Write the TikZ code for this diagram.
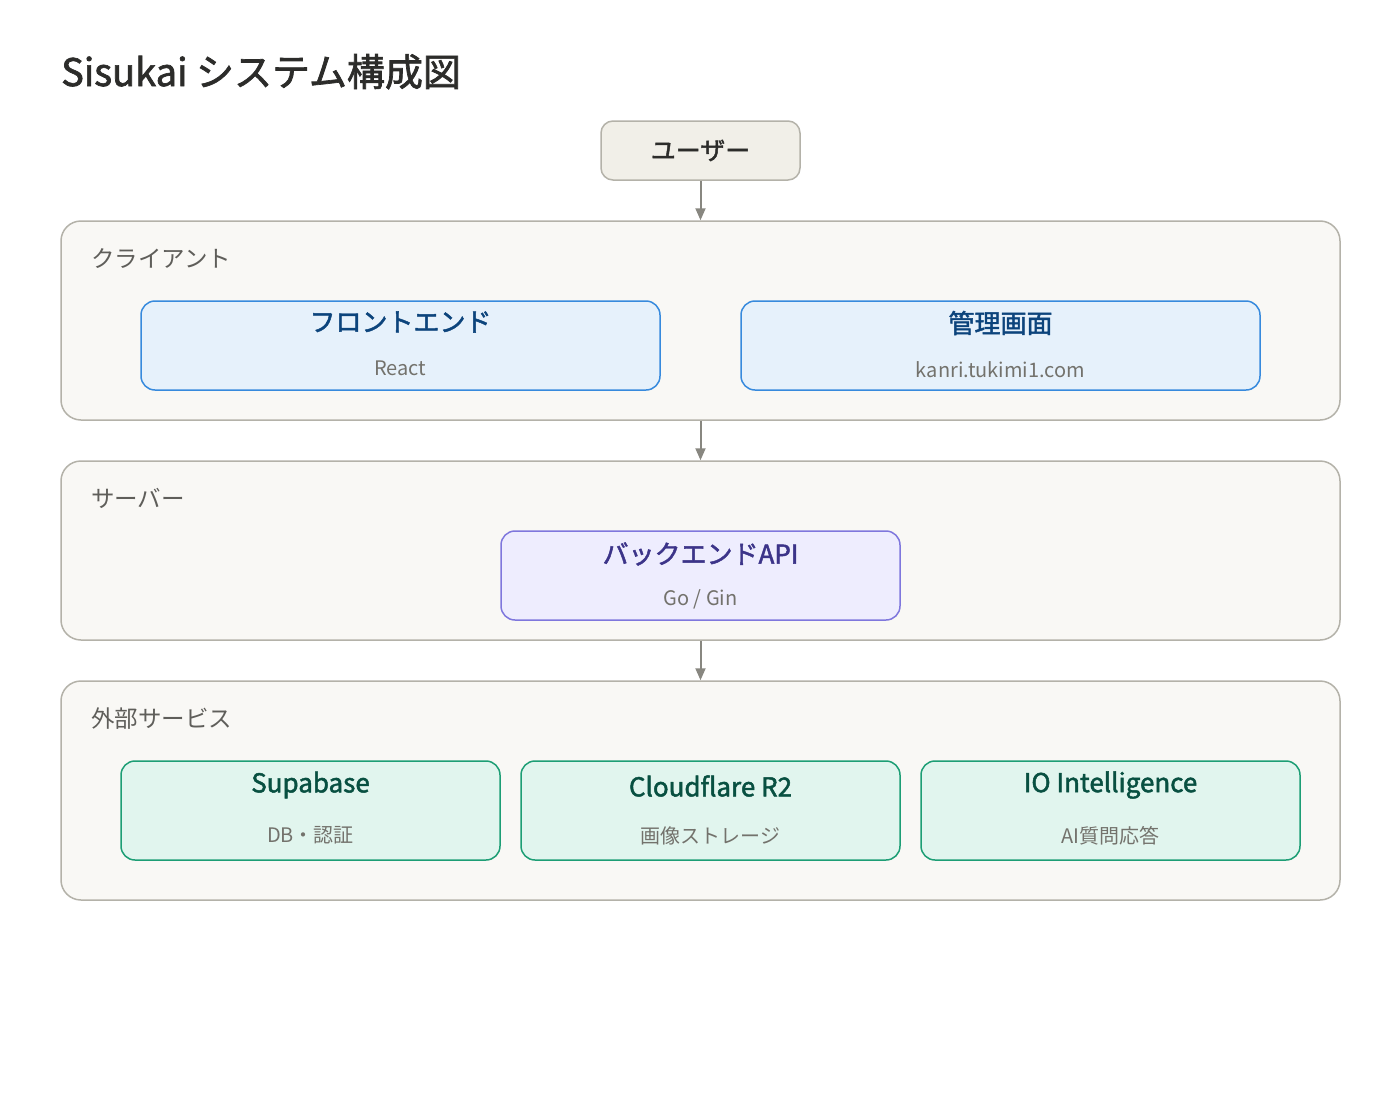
\documentclass[tikz,border=0pt]{standalone}
\usepackage{fontspec}
\setmainfont{Noto Sans CJK JP}
\newfontfamily\medfont{Noto Sans CJK JP}[FakeBold=1.8]
\usetikzlibrary{arrows.meta}

\definecolor{inkdark}{HTML}{2C2C2A}
\definecolor{usefill}{HTML}{F1EFE8}
\definecolor{usedraw}{HTML}{B4B2A9}
\definecolor{layerfill}{HTML}{F9F8F5}
\definecolor{layerdraw}{HTML}{B4B2A9}
\definecolor{labelgray}{HTML}{5F5E5A}
\definecolor{subgray}{HTML}{73726C}
\definecolor{bluefill}{HTML}{E6F1FB}
\definecolor{bluedraw}{HTML}{378ADD}
\definecolor{bluetext}{HTML}{0C447C}
\definecolor{purpfill}{HTML}{EEEDFE}
\definecolor{purpdraw}{HTML}{7F77DD}
\definecolor{purptext}{HTML}{3C3489}
\definecolor{tealfill}{HTML}{E1F5EE}
\definecolor{tealdraw}{HTML}{1D9E75}
\definecolor{tealtext}{HTML}{085041}
\definecolor{flowgray}{HTML}{888780}

\tikzset{
  layer/.style={rectangle, rounded corners=20pt, draw=layerdraw, fill=layerfill, line width=1.5pt, inner sep=0pt, minimum width=1279pt},
  layerlabel/.style={anchor=west, inner sep=0pt, text=labelgray, font=\fontsize{23.5}{27}\selectfont},
  card/.style={rectangle, rounded corners=14pt, line width=1.5pt, inner sep=0pt, minimum height=89pt},
  bluecard/.style={card, draw=bluedraw, fill=bluefill, minimum width=519pt},
  purpcard/.style={card, draw=purpdraw, fill=purpfill, minimum width=399pt},
  tealcard/.style={card, draw=tealdraw, fill=tealfill, minimum width=379pt, minimum height=99pt},
  cardtitle/.style={inner sep=0pt, font=\medfont\fontsize{26}{30}\selectfont},
  cardsub/.style={inner sep=0pt, text=subgray, font=\fontsize{20}{24}\selectfont},
  flow/.style={draw=flowgray, line width=2pt, -{Triangle[length=12pt, width=10pt]}}
}

\begin{document}
\begin{tikzpicture}[x=1pt, y=-1pt]
\fill[white] (0,0) rectangle (1400,1100);

\node (title) [anchor=base west, inner sep=0pt, text=inkdark, font=\medfont\fontsize{38}{44}\selectfont] at (61,86) {Sisukai システム構成図};

\node (user) [rectangle, rounded corners=12pt, draw=usedraw, fill=usefill, line width=1.5pt, minimum width=199pt, minimum height=59pt, inner sep=0pt, text=inkdark, font=\medfont\fontsize{25}{29}\selectfont] at (700.5,150.5) {ユーザー};

% client layer
\node (client) [layer, minimum height=199pt] at (700.5,320.5) {};
\node (clientlabel) [layerlabel] at (91,259) {クライアント};
\node (front) [bluecard] at (400.5,345.5) {};
\node (fronttitle) [cardtitle, text=bluetext] at (400.5,322) {フロントエンド};
\node (frontsub) [cardsub] at (400.5,368.5) {React};
\node (admin) [bluecard] at (1000.5,345.5) {};
\node (admintitle) [cardtitle, text=bluetext] at (1000.5,323) {管理画面};
\node (adminsub) [cardsub] at (1000.5,369.5) {kanri.tukimi1.com};

% server layer
\node (server) [layer, minimum height=179pt] at (700.5,550.5) {};
\node (serverlabel) [layerlabel] at (91,498) {サーバー};
\node (backend) [purpcard] at (700.5,575.5) {};
\node (backtitle) [cardtitle, text=purptext] at (700.5,554) {バックエンドAPI};
\node (backsub) [cardsub] at (700.5,599) {Go / Gin};

% external layer
\node (extern) [layer, minimum height=219pt] at (700.5,790.5) {};
\node (externlabel) [layerlabel] at (91,719) {外部サービス};
\node (supa) [tealcard] at (310.5,810.5) {};
\node (supatitle) [cardtitle, text=tealtext] at (310.5,785) {Supabase};
\node (supasub) [cardsub] at (310.5,835) {DB・認証};
\node (cfr2) [tealcard] at (710.5,810.5) {};
\node (cfr2title) [cardtitle, text=tealtext] at (710.5,786) {Cloudflare R2};
\node (cfr2sub) [cardsub] at (710.5,836) {画像ストレージ};
\node (iointel) [tealcard] at (1110.5,810.5) {};
\node (iointeltitle) [cardtitle, text=tealtext] at (1110.5,785) {IO Intelligence};
\node (iointelsub) [cardsub] at (1110.5,836) {AI質問応答};

% flows
\draw[flow] (user) -- (client);
\draw[flow] (client) -- (server);
\draw[flow] (server) -- (extern);
\end{tikzpicture}
\end{document}
